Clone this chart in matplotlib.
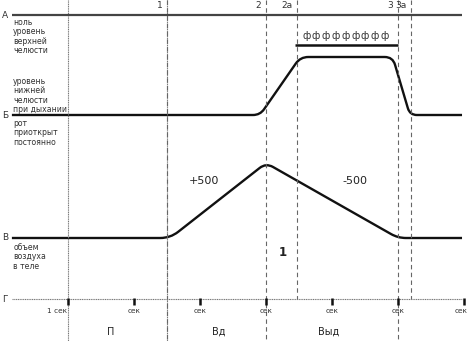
import numpy as np
import matplotlib
matplotlib.use("Agg")
import matplotlib.pyplot as plt
from matplotlib.path import Path
from matplotlib.patches import PathPatch

plt.rcParams['font.family'] = ['DejaVu Sans']

# ---- data (time in seconds, level in chart units, top = 0) ----
levels = {"А": 15, "Б": 115, "В": 238, "Г": 299}
t_start, t_end = -0.85, 5.97

# jaw (lower jaw level) polyline
jaw_t = [-0.85, 2.91, 3.52, 4.92, 5.18, 5.97]
jaw_y = [115, 115, 57, 57, 115, 115]

# air volume polyline
vol_t = [-0.85, 1.55, 3.0, 5.0, 5.97]
vol_y = [238, 238, 163, 238, 238]

# vertical markers
solid_marks = [0.0, 1.5]
mark_labels = ["1", "2", "2a", "3", "3a"]
mark_t = [1.5, 3.0, 3.47, 5.0, 5.2]
mark_full = [True, True, False, True, False]

# seconds ticks
tick_t = [0, 1, 2, 3, 4, 5, 6]
tick_labels = ["1 сек", "сек", "сек", "сек", "сек", "сек", "сек"]

phase_labels = ["П", "Вд", "Выд"]
phase_t = [0.64, 2.28, 3.95]

phi_span = (3.47, 5.0)
phi_count = 9
phi_level = 45

PX = 66.0  # px per second


def rounded_path(ts, ys, radii):
    pts = [(t * PX, y) for t, y in zip(ts, ys)]
    verts = [pts[0]]
    codes = [Path.MOVETO]
    for i in range(1, len(pts) - 1):
        r = radii[i - 1]
        p0, p1, p2 = np.array(pts[i - 1]), np.array(pts[i]), np.array(pts[i + 1])
        d1 = p0 - p1
        d2 = p2 - p1
        a = p1 + d1 / np.linalg.norm(d1) * min(r, np.linalg.norm(d1) / 2)
        b = p1 + d2 / np.linalg.norm(d2) * min(r, np.linalg.norm(d2) / 2)
        verts += [tuple(a), tuple(p1), tuple(b)]
        codes += [Path.LINETO, Path.CURVE3, Path.CURVE3]
    verts.append(pts[-1])
    codes.append(Path.LINETO)
    verts = [(x / PX, y) for x, y in verts]
    return Path(verts, codes)


fig = plt.figure(figsize=(4.69, 3.41), dpi=100)
ax = fig.add_axes([0, 0, 1, 1])
ax.set_xlim(-68 / PX, (469 - 68) / PX)
ax.set_ylim(341, 0)
ax.axis("off")

# solid thin vertical lines
for t in solid_marks:
    ax.plot([t, t], [0, 341], color="#777777", lw=0.8, ls=(0, (1, 0.6)))

# dashed markers
for lab, t, full in zip(mark_labels, mark_t, mark_full):
    y1 = 341 if full else levels["Г"]
    ax.plot([t, t], [0, y1], color="#666666", lw=0.8, ls=(0, (4, 3)))
    ax.text(t - 0.07, 6, lab, ha="right", va="center", fontsize=6.5, color="#333333")

# level A line
ax.plot([t_start, t_end], [levels["А"]] * 2, color="#444444", lw=1.6, solid_capstyle="butt")

# jaw and volume curves
ax.add_patch(PathPatch(rounded_path(jaw_t, jaw_y, [7, 8, 8, 7]), fill=False, ec="#111111", lw=1.7))
ax.add_patch(PathPatch(rounded_path(vol_t, vol_y, [10, 8, 8]), fill=False, ec="#111111", lw=1.7))

# G line with ticks
ax.plot([t_start, t_end], [levels["Г"]] * 2, color="#777777", lw=0.8, ls=(0, (1, 0.6)))
for t, lab in zip(tick_t, tick_labels):
    ax.plot([t, t], [levels["Г"] - 1, levels["Г"] + 6], color="#111111", lw=1.8, solid_capstyle="butt")
    if lab == "1 сек":
        ax.text(t - 0.02, 311, lab, ha="right", va="center", fontsize=5.3, color="#333333")
    elif t == tick_t[-1]:
        ax.text(t + 0.06, 311, lab, ha="right", va="center", fontsize=5.3, color="#333333")
    else:
        ax.text(t, 311, lab, ha="center", va="center", fontsize=5.3, color="#333333")

# left letters
for name, y in levels.items():
    ax.text(-1.0, y, name, ha="left", va="center", fontsize=6.5, color="#333333")

# left descriptions
small = dict(ha="left", va="top", fontsize=5.6, color="#333333", linespacing=1.05)
ax.text(-0.83, 18, "ноль\nуровень\nверхней\nчелюсти", **small)
ax.text(-0.83, 77, "уровень\nнижней\nчелюсти\nпри дыхании", **small)
ax.text(-0.83, 119, "рот\nприоткрыт\nпостоянно", **small)
ax.text(-0.83, 243, "объем\nвоздуха\nв теле", **small)

# phonation bar
ax.plot([phi_span[0] - 0.03, phi_span[1]], [phi_level, phi_level], color="#111111", lw=1.8, solid_capstyle="butt")
for t in np.linspace(phi_span[0] + 0.14, phi_span[1] - 0.2, phi_count):
    ax.text(t, 36, "ф", ha="center", va="center", fontsize=7, color="#333333")

# annotations
ax.text(2.06, 181, "+500", ha="center", va="center", fontsize=8, color="#222222")
ax.text(4.35, 181, "-500", ha="center", va="center", fontsize=8, color="#222222")
ax.text(3.26, 252, "1", ha="center", va="center", fontsize=8.5, fontweight="bold", color="#222222")

for lab, t in zip(phase_labels, phase_t):
    ax.text(t, 332, lab, ha="center", va="center", fontsize=7, color="#222222")

fig.savefig("out.png", dpi=100)
